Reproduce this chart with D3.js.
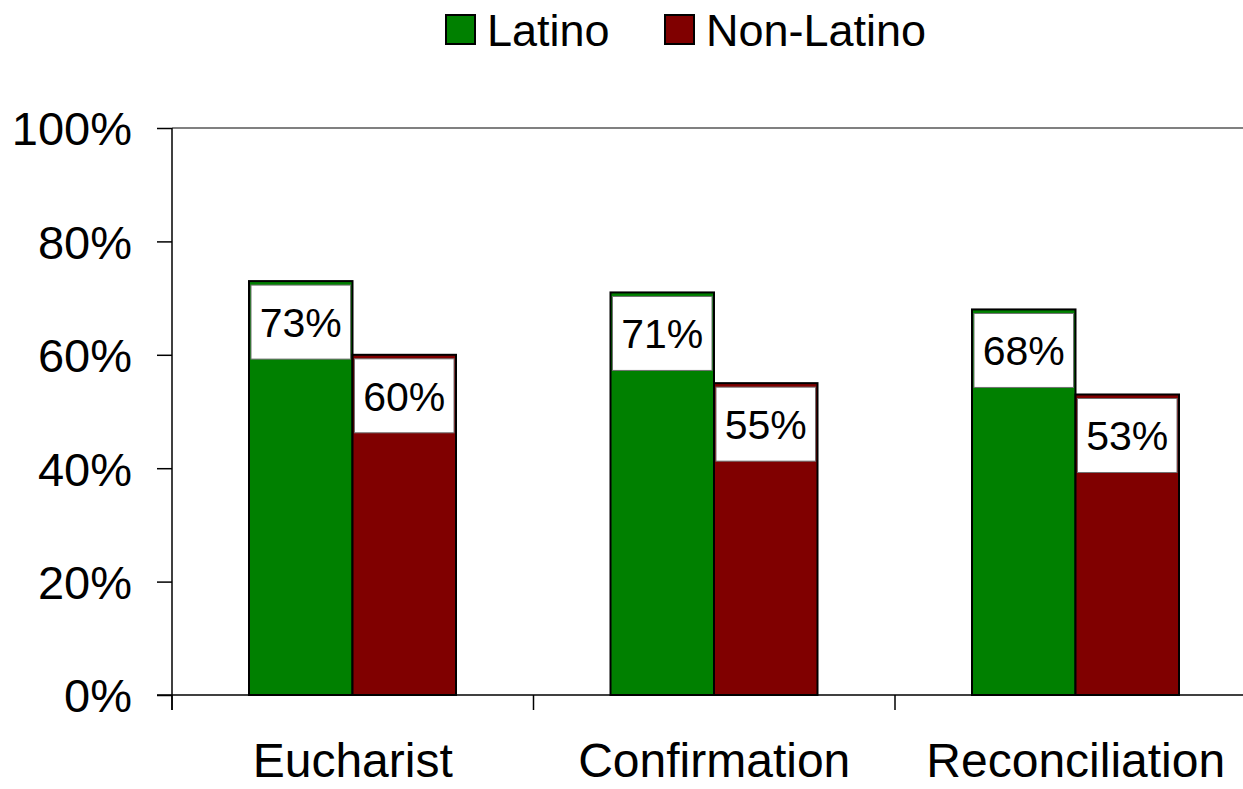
<!DOCTYPE html>
<html><head><meta charset="utf-8">
<script src="https://cdn.jsdelivr.net/npm/d3@7"></script>
<style>body{margin:0;background:#fff}svg{display:block;font-family:"Liberation Sans",Arial,sans-serif}</style>
</head><body><svg id="c" width="1243" height="789"></svg>
<script>
const categories = ["Eucharist", "Confirmation", "Reconciliation"];
const seriesNames = ["Latino", "Non-Latino"];
const latino = [73, 71, 68];
const nonLatino = [60, 55, 53];
const yTicks = [0, 20, 40, 60, 80, 100];
const colors = ["#008000", "#800000"];

(function(){
const svg = d3.select("#c");
const pLeft = 172, pRight = 1256.5, pTop = 128, pBottom = 695;
const x = d3.scaleBand().domain(categories).range([pLeft, pRight]).paddingInner(0).paddingOuter(0);
const sub = d3.scaleBand().domain(seriesNames).range([77, x.bandwidth() - 77.5]);
const y = d3.scaleLinear().domain([0, 100]).range([pBottom, pTop]);

// top border of plot area
svg.append("line").attr("x1", pLeft).attr("x2", 1243).attr("y1", y(100)).attr("y2", y(100))
  .attr("stroke", "#808080").attr("stroke-width", 2);

// y axis
const yAxis = svg.append("g").attr("transform", `translate(${pLeft},0)`)
  .call(d3.axisLeft(y).tickValues(yTicks).tickSize(15).tickPadding(25).tickFormat(d => d + "%"));
yAxis.select(".domain").remove();
yAxis.selectAll(".tick line").attr("stroke", "#000").attr("stroke-width", 1.5);
yAxis.selectAll("text").attr("font-size", 47).attr("fill", "#000")
  .attr("font-family", "Liberation Sans, Arial, sans-serif").attr("dy", "0.36em");
svg.append("line").attr("x1", pLeft).attr("x2", pLeft).attr("y1", pTop).attr("y2", pBottom + 15)
  .attr("stroke", "#000").attr("stroke-width", 1.5);

// x axis
const xAxis = svg.append("g").attr("transform", `translate(0,${pBottom})`)
  .call(d3.axisBottom(x).tickSize(0).tickPadding(0));
xAxis.select(".domain").remove();
xAxis.selectAll("text").attr("font-size", 48).attr("fill", "#000")
  .attr("font-family", "Liberation Sans, Arial, sans-serif")
  .attr("y", 82).attr("dy", null);
categories.forEach(c => {
  svg.append("line").attr("x1", x(c)).attr("x2", x(c)).attr("y1", pBottom).attr("y2", pBottom + 15)
    .attr("stroke", "#000").attr("stroke-width", 1.5);
});

// bars
const data = [];
categories.forEach((c, i) => {
  data.push({cat: c, s: seriesNames[0], v: latino[i], col: colors[0]});
  data.push({cat: c, s: seriesNames[1], v: nonLatino[i], col: colors[1]});
});
const g = svg.append("g");
g.selectAll("rect.bar").data(data).join("rect").attr("class", "bar")
  .attr("x", d => x(d.cat) + sub(d.s))
  .attr("width", sub.bandwidth())
  .attr("y", d => y(d.v))
  .attr("height", d => y(0) - y(d.v))
  .attr("fill", d => d.col).attr("stroke", "#000").attr("stroke-width", 2);

// baseline
svg.append("line").attr("x1", pLeft - 15).attr("x2", 1243).attr("y1", pBottom).attr("y2", pBottom)
  .attr("stroke", "#000").attr("stroke-width", 1.5);

// label boxes
g.selectAll("rect.lab").data(data).join("rect").attr("class", "lab")
  .attr("x", d => x(d.cat) + sub(d.s) + 2)
  .attr("width", sub.bandwidth() - 4)
  .attr("y", d => y(d.v) + 4)
  .attr("height", 74)
  .attr("fill", "#fff").attr("stroke", "#707070").attr("stroke-width", 1);
g.selectAll("text.lab").data(data).join("text").attr("class", "lab")
  .attr("x", d => x(d.cat) + sub(d.s) + sub.bandwidth() / 2)
  .attr("y", d => y(d.v) + 4 + 37)
  .attr("dy", "0.36em")
  .attr("text-anchor", "middle").attr("font-size", 41).attr("fill", "#000")
  .text(d => d.v + "%");

// legend
const legendX = [446, 665];
seriesNames.forEach((s, i) => {
  svg.append("rect").attr("x", legendX[i]).attr("y", 15).attr("width", 29).attr("height", 29)
    .attr("fill", colors[i]).attr("stroke", "#000").attr("stroke-width", 2);
  svg.append("text").attr("x", legendX[i] + 41).attr("y", 30).attr("dy", "0.36em")
    .attr("font-size", 45).attr("fill", "#000").text(s);
});
})();
</script></body></html>
